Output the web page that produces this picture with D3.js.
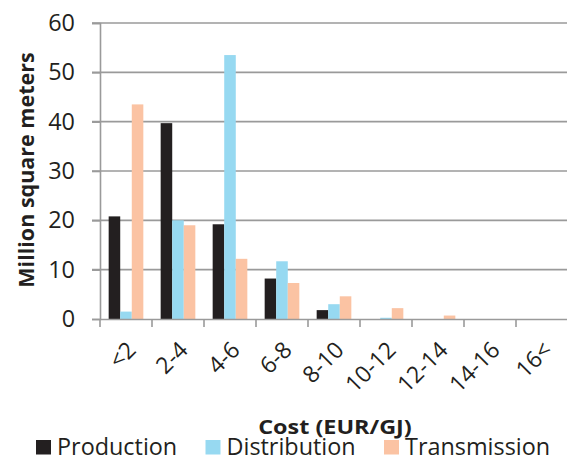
<!DOCTYPE html>
<html><head><meta charset="utf-8">
<script src="https://cdn.jsdelivr.net/npm/d3@7"></script>
<style>body{margin:0;background:#fff}svg{display:block}</style>
</head><body>
<svg id="c" width="567" height="457"></svg>
<script>
const categories = ["<2","2-4","4-6","6-8","8-10","10-12","12-14","14-16","16<"];
const seriesNames = ["Production","Distribution","Transmission"];
const production = [20.8, 39.7, 19.2, 8.2, 1.8, 0, 0, 0, 0];
const distribution = [1.5, 20, 53.5, 11.7, 3.0, 0.25, 0, 0, 0];
const transmission = [43.5, 19, 12.2, 7.3, 4.6, 2.2, 0.7, 0, 0];
const yTicks = [0,10,20,30,40,50,60];
const colors = ["#231f20","#97d9f1","#fbc3a3"];

const svg = d3.select("#c");
const font = "'Open Sans', Lato, sans-serif";
const x0 = d3.scaleBand().domain(categories).range([100, 568]);
const y = d3.scaleLinear().domain([0,60]).range([319, 23]);
const groupW = x0.bandwidth()*3/4.5;
const x1 = d3.scaleBand().domain(seriesNames).range([(x0.bandwidth()-groupW)/2, (x0.bandwidth()+groupW)/2]);

// grid
svg.append("g").selectAll("line").data(yTicks.filter(d=>d>0)).join("line")
  .attr("x1",92).attr("x2",567).attr("y1",d=>y(d)).attr("y2",d=>y(d))
  .attr("stroke","#9a9a9a").attr("stroke-width",1.6);

const data = [production, distribution, transmission];
seriesNames.forEach((s,i)=>{
  svg.append("g").selectAll("rect").data(categories).join("rect")
    .attr("x",(c)=>x0(c)+x1(s)).attr("width",x1.bandwidth())
    .attr("y",(c,j)=>y(data[i][j])).attr("height",(c,j)=>y(0)-y(data[i][j]))
    .attr("fill",colors[i]);
});

// y axis
const yAx = svg.append("g").attr("transform","translate(100,0)")
  .call(d3.axisLeft(y).tickValues(yTicks).tickSize(8).tickPadding(17));
yAx.select(".domain").attr("stroke","#9a9a9a").attr("stroke-width",1.6);
yAx.selectAll(".tick line").attr("stroke","#9a9a9a").attr("stroke-width",1.6);
yAx.selectAll("text").attr("font-family",font).attr("font-size",23.4).attr("fill","#231f20");

// x axis
const xAx = svg.append("g").attr("transform","translate(0,319)")
  .call(d3.axisBottom(x0).tickSize(0).tickFormat(""));
xAx.select(".domain").attr("stroke","#9a9a9a").attr("stroke-width",1.6);
svg.append("g").selectAll("line").data(categories).join("line")
  .attr("x1",c=>x0(c)).attr("x2",c=>x0(c)).attr("y1",319).attr("y2",327)
  .attr("stroke","#9a9a9a").attr("stroke-width",1.6);
svg.append("g").selectAll("text").data(categories).join("text")
  .attr("transform",c=>`translate(${x0(c)+x0.bandwidth()/2},${340}) rotate(-45)`)
  .attr("text-anchor","end").attr("dy","0.7em")
  .attr("font-family",font).attr("font-size",23).attr("fill","#231f20")
  .text(c=>c);

// titles
svg.append("text").attr("transform","translate(34,170) rotate(-90)")
  .attr("text-anchor","middle").attr("font-family",font).attr("font-weight","bold")
  .attr("font-size",21.5).attr("fill","#231f20").text("Million square meters");
svg.append("text").attr("transform","translate(335,434) scale(1.2,1)").attr("text-anchor","middle")
  .attr("font-family",font).attr("font-weight","bold").attr("font-size",19.5)
  .attr("fill","#231f20").text("Cost (EUR/GJ)");

// legend
const legX = [36, 205.5, 384];
seriesNames.forEach((s,i)=>{
  svg.append("rect").attr("x",legX[i]).attr("y",440).attr("width",15).attr("height",14.5).attr("fill",colors[i]);
  svg.append("text").attr("x",legX[i]+21).attr("y",455).attr("font-family",font)
    .attr("font-size",23.4).attr("fill","#231f20").text(s);
});
</script>
</body></html>
